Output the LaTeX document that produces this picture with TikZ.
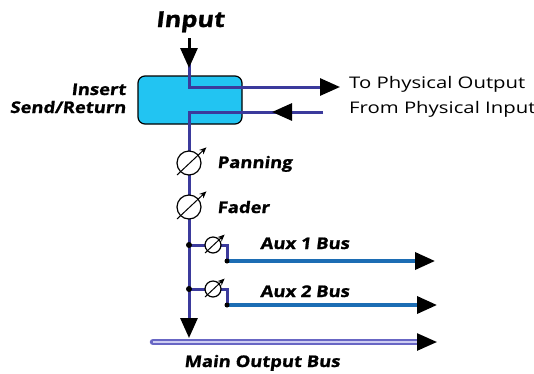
\documentclass[tikz,border=0pt]{standalone}
\usepackage{fontspec}
\setmainfont{Open Sans}[FakeStretch=1.27]
\newfontfamily\lblfont{Open Sans}[FakeSlant=0.12, FakeStretch=1.15, FakeBold=1.2]
\usetikzlibrary{arrows.meta,positioning,calc}
\definecolor{sigblue}{HTML}{3B3A9C}
\definecolor{auxblue}{HTML}{1C6DB4}
\definecolor{boxcyan}{HTML}{22C4F2}
\definecolor{busout}{HTML}{6866C4}
\definecolor{busin}{HTML}{CDCDF2}
\begin{document}
\begin{tikzpicture}[
  x=1pt, y=-1pt,
  sigline/.style = {draw=sigblue, line width=3pt},
  auxline/.style = {draw=auxblue, line width=3.5pt},
  bighead/.style = {-{Triangle[length=20pt,width=17pt,black]}},
  potarrow/.style = {-{Stealth[length=7pt,width=6pt]}, line width=1pt},
  pot/.style = {circle, draw, fill=white, line width=1.2pt, minimum size=24pt, inner sep=0pt},
  smallpot/.style = {pot, minimum size=16pt},
  dot/.style = {circle, fill=black, inner sep=0pt, minimum size=6pt},
  tag/.style = {font=\lblfont\bfseries\fontsize{16}{18}\selectfont, inner sep=0pt},
  plain/.style = {font=\fontsize{16}{18}\selectfont, inner sep=0pt, anchor=base west}
]
  \useasboundingbox (0,0) rectangle (534,373);

  % insert box and input
  \node[draw, line width=1.2pt, fill=boxcyan, rounded corners=7pt,
        minimum width=104pt, minimum height=48pt] (insert) at (190,100) {};
  \node[tag, font=\lblfont\bfseries\fontsize{22}{24}\selectfont, anchor=base] (input) at (190,27) {Input};
  \node[tag, anchor=base east] (ins) at (126,95) {Insert};
  \node[tag, anchor=base east] (sendret) at (126,113) {Send/Return};

  \coordinate (intop) at (189,38);
  \coordinate (intip) at (189,68);
  \coordinate (sigtop) at (189,52);
  \coordinate (send) at (340,87);
  \coordinate (ret) at (323,112);
  \coordinate (retmid) at (272,112);
  \coordinate (maintip) at (189,338);

  \draw[sigline, bighead] (sigtop) |- (send);
  \draw[sigline, bighead] (ret) -| (maintip);
  \draw[sigline, bighead] (ret) -- (retmid);
  \draw[line width=3pt, bighead] (intop) -- (intip);

  \node[plain] (toout) at (349,88) {To Physical Output};
  \node[plain] (fromin) at (349,113) {From Physical Input};

  % aux sends
  \coordinate (ja) at (189,245);
  \coordinate (ka) at (227,245);
  \coordinate (da) at (227,261);
  \coordinate (aa) at (435,261);
  \coordinate (jb) at (189,289);
  \coordinate (kb) at (227,289);
  \coordinate (db) at (227,305);
  \coordinate (ab) at (437,305);
  \draw[sigline] (ja) -- (ka) -- (da);
  \draw[sigline] (jb) -- (kb) -- (db);
  \draw[auxline, bighead] (da) -- (aa);
  \draw[auxline, bighead] (db) -- (ab);
  \node[dot] at (ja) {};
  \node[dot] at (jb) {};
  \node[dot, minimum size=5pt] at (da) {};
  \node[dot, minimum size=5pt] at (db) {};

  % level controls
  \node[pot] (pan) at (189,163) {};
  \node[pot] (fader) at (189,207) {};
  \node[smallpot] (auxa) at (213,245) {};
  \node[smallpot] (auxb) at (213,289) {};
  \foreach \p/\r in {pan/12, fader/12, auxa/8, auxb/8}
    \draw[potarrow] ($(\p)+(-\r,\r)$) -- ($(\p)+(1.45*\r,-1.3*\r)$);

  \node[tag, anchor=base west] (panl) at (217,168) {Panning};
  \node[tag, anchor=base west] (fadl) at (217,213) {Fader};
  \node[tag, anchor=base west] (auxal) at (260,249) {Aux 1 Bus};
  \node[tag, anchor=base west] (auxbl) at (260,297) {Aux 2 Bus};

  % main bus
  \coordinate (busl) at (153,342);
  \coordinate (busr) at (437,342);
  \draw[busout, line width=6.5pt, line cap=round, shorten >=12pt] (busl) -- (busr);
  \draw[busin, line width=2.5pt, bighead] (busl) -- (busr);
  \node[tag, anchor=base] (mainl) at (262,367) {Main Output Bus};
\end{tikzpicture}
\end{document}
